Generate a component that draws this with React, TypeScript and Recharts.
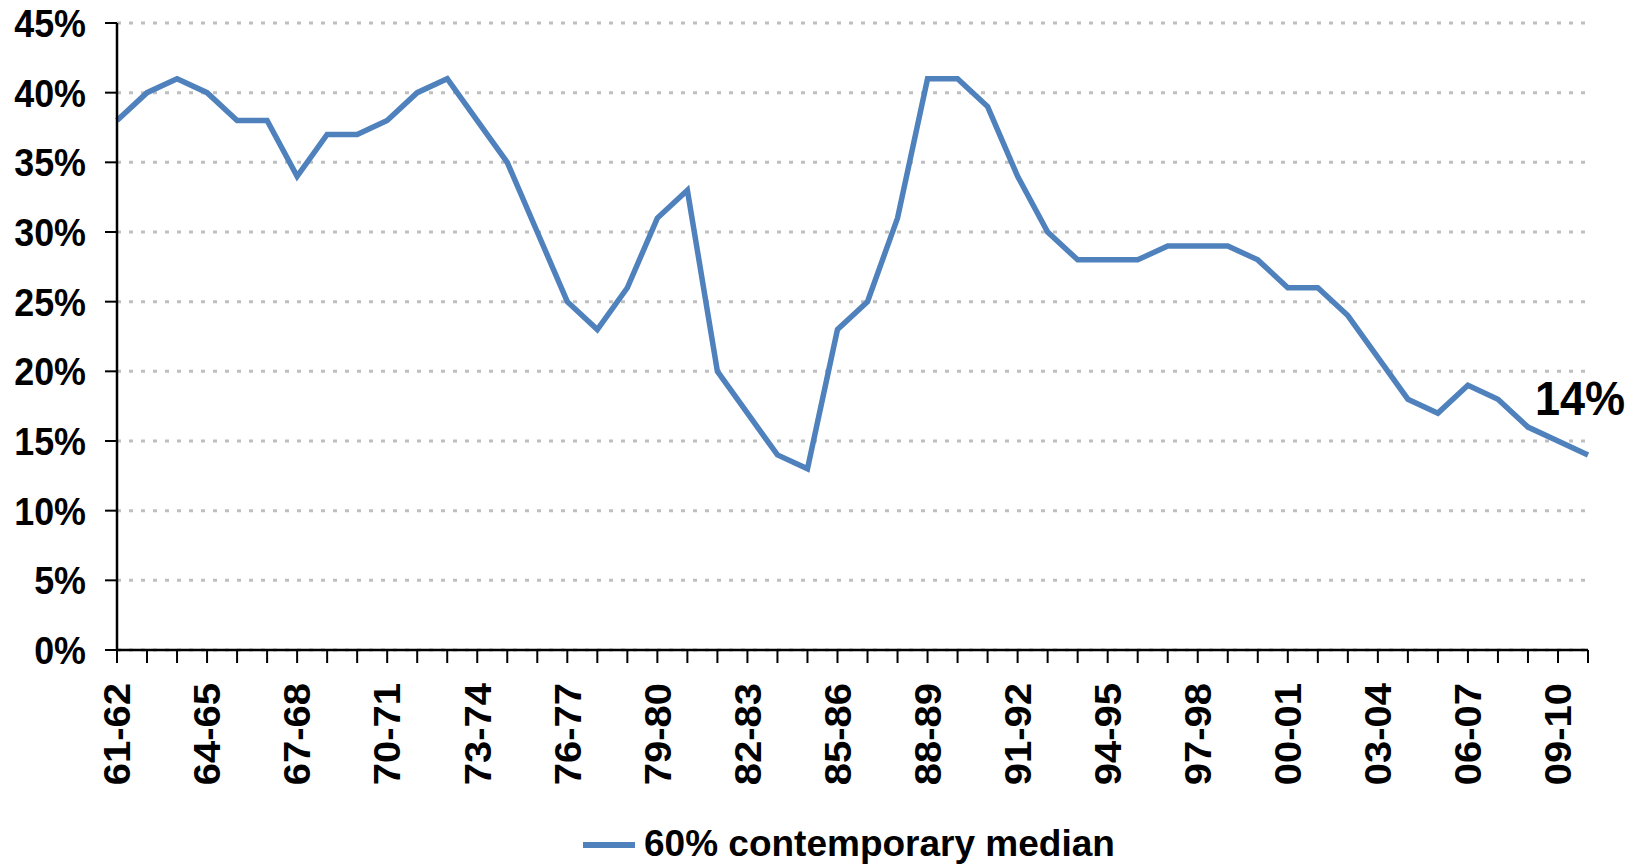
import { CartesianGrid, Legend, LabelList, Line, LineChart, XAxis, YAxis } from "recharts";

// financial years, 1961-62 to 2010-11
const years = [
  "61-62", "62-63", "63-64", "64-65", "65-66", "66-67", "67-68", "68-69", "69-70", "70-71",
  "71-72", "72-73", "73-74", "74-75", "75-76", "76-77", "77-78", "78-79", "79-80", "80-81",
  "81-82", "82-83", "83-84", "84-85", "85-86", "86-87", "87-88", "88-89", "89-90", "90-91",
  "91-92", "92-93", "93-94", "94-95", "95-96", "96-97", "97-98", "98-99", "99-00", "00-01",
  "01-02", "02-03", "03-04", "04-05", "05-06", "06-07", "07-08", "08-09", "09-10", "10-11",
];

// share below 60% of contemporary median (%)
const below60 = [
  38, 40, 41, 40, 38, 38, 34, 37, 37, 38,
  40, 41, 38, 35, 30, 25, 23, 26, 31, 33,
  20, 17, 14, 13, 23, 25, 31, 41, 41, 39,
  34, 30, 28, 28, 28, 29, 29, 29, 28, 26,
  26, 24, 21, 18, 17, 19, 18, 16, 15, 14,
];

const yTicks = [0, 5, 10, 15, 20, 25, 30, 35, 40, 45];

const seriesName = "60% contemporary median";

const data = years.map((year, i) => ({ year, value: below60[i] }));

const FONT = "'Liberation Sans', Arial, Helvetica, sans-serif";
const BLUE = "#4f81bd";
// the original text is a touch condensed
const SQUASH = 0.92;

function YearTick(props: any) {
  const { x, y, payload } = props;
  if (payload.index % 3 !== 0) return null;
  return (
    <g transform={`translate(${x},${y}) scale(${SQUASH},1) rotate(-90)`}>
      <text
        x={0}
        y={0}
        dy="0.36em"
        textAnchor="end"
        fontFamily={FONT}
        fontSize={40}
        fontWeight={700}
        fill="#000"
      >
        {payload.value}
      </text>
    </g>
  );
}

function PctTick(props: any) {
  const { x, y, payload } = props;
  return (
    <g transform={`translate(${x},${y}) scale(${SQUASH},1)`}>
      <text
        x={0}
        y={0}
        dy="0.36em"
        textAnchor="end"
        fontFamily={FONT}
        fontSize={39}
        fontWeight={700}
        fill="#000"
      >
        {`${payload.value}%`}
      </text>
    </g>
  );
}

function EndLabel(props: any) {
  const { x, y, value, index } = props;
  if (index !== below60.length - 1) return null;
  return (
    <g transform={`translate(${x - 8},${y - 40}) scale(${SQUASH},1)`}>
      <text
        x={0}
        y={0}
        textAnchor="middle"
        fontFamily={FONT}
        fontSize={49}
        fontWeight={700}
        fill="#000"
      >
        {`${value}%`}
      </text>
    </g>
  );
}

function LegendBox() {
  return (
    <div style={{ position: "relative", width: 1637, height: 44, fontFamily: FONT }}>
      <div
        style={{ position: "absolute", left: 583, top: 20, width: 52, height: 6, background: BLUE }}
      />
      <div
        style={{
          position: "absolute",
          left: 644,
          top: 0,
          lineHeight: "44px",
          fontSize: 37,
          fontWeight: 700,
          color: "#000",
          whiteSpace: "nowrap",
        }}
      >
        {seriesName}
      </div>
    </div>
  );
}

export default function App() {
  return (
    <div style={{ position: "absolute", left: 0, top: 0, background: "#fff" }}>
      <LineChart
        width={1637}
        height={867}
        data={data}
        margin={{ top: 23, right: 49, left: 0, bottom: 1 }}
      >
        <CartesianGrid
          vertical={false}
          stroke="#bfbfbf"
          strokeWidth={3}
          strokeDasharray="4 8"
        />
        <XAxis
          dataKey="year"
          interval={0}
          height={172}
          tickSize={13}
          tickMargin={20}
          tick={<YearTick />}
          axisLine={{ stroke: "#000", strokeWidth: 2.5 }}
          tickLine={{ stroke: "#000", strokeWidth: 2 }}
        />
        <YAxis
          width={117}
          domain={[0, 45]}
          ticks={yTicks}
          interval={0}
          tickSize={12}
          tickMargin={19}
          tick={<PctTick />}
          axisLine={{ stroke: "#000", strokeWidth: 2.5 }}
          tickLine={{ stroke: "#000", strokeWidth: 2 }}
        />
        <Legend
          verticalAlign="bottom"
          wrapperStyle={{ left: 0, width: 1637 }}
          content={() => <LegendBox />}
        />
        <Line
          type="linear"
          dataKey="value"
          name={seriesName}
          stroke={BLUE}
          strokeWidth={5.5}
          dot={false}
          activeDot={false}
          isAnimationActive={false}
        >
          <LabelList dataKey="value" content={<EndLabel />} />
        </Line>
      </LineChart>
    </div>
  );
}
